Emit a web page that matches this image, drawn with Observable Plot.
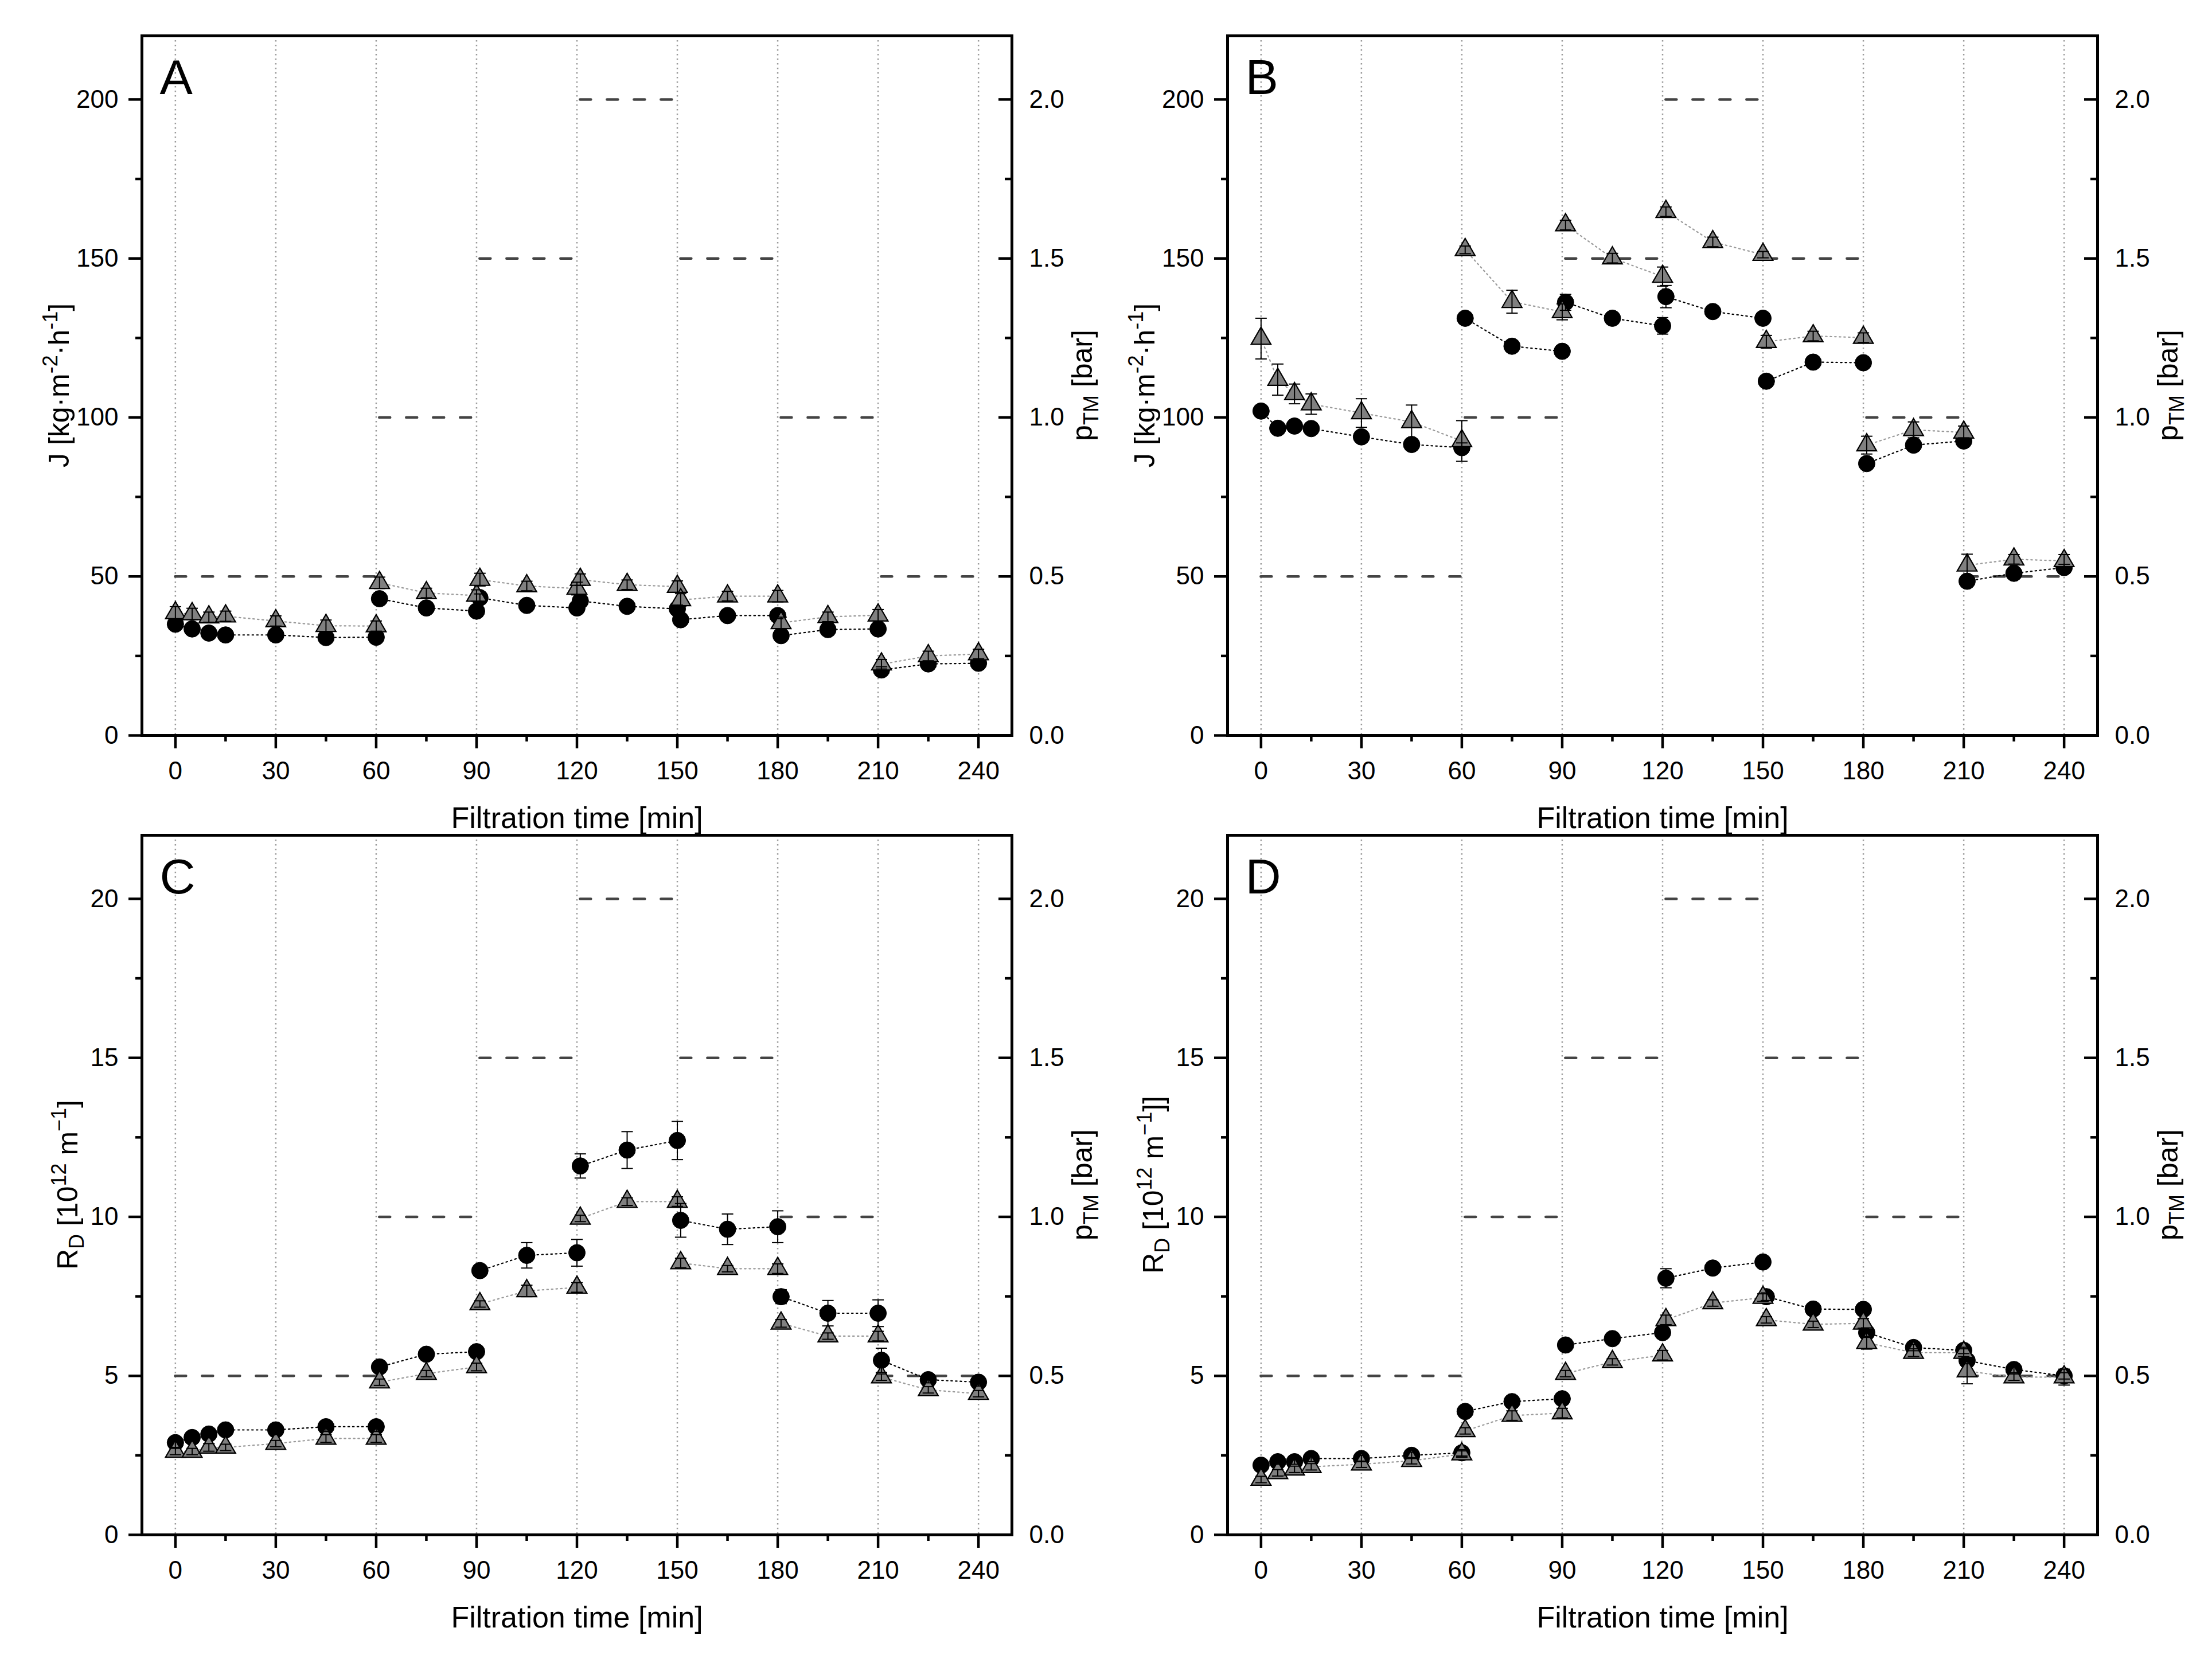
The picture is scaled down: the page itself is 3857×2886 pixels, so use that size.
<!DOCTYPE html>
<html><head><meta charset="utf-8">
<script src="https://cdn.jsdelivr.net/npm/d3@7"></script>
<script src="https://cdn.jsdelivr.net/npm/@observablehq/plot@0.6"></script>
<style>
html,body{margin:0;padding:0;background:#fff;}
#fig{position:relative;width:3857px;height:2886px;background:#fff;overflow:hidden;}
.panel{position:absolute;width:1930px;height:1472px;}
</style></head><body><div id="fig"></div>
<script>
// ---- shared x data ----
const times = [0,5,10,15,30,45,60, 61,75,90, 91,105,120, 121,135,150, 151,165,180, 181,195,210, 211,225,240];
const stage = [0,0,0,0,0,0,0, 1,1,1, 2,2,2, 3,3,3, 4,4,4, 5,5,5, 6,6,6];

// ---- transmembrane pressure steps ----
const pStart = [0,61,91,121,151,181,211];
const pEnd   = [60,90,120,150,180,210,240];
const pLevel = [0.5,1.0,1.5,2.0,1.5,1.0,0.5];

// ---- Panel A: flux J ----
const aCircle    = [35.0,33.5,32.2,31.6,31.6,30.8,30.9, 43.0,40.1,39.1, 43.3,40.9,40.1, 42.3,40.6,39.8, 36.4,37.7,37.7, 31.4,33.3,33.5, 20.6,22.5,22.7];
const aCircleErr = [1,1,0.8,0.8,1,1,1, 1.2,1,1, 1.2,1,1.2, 1.5,1,1.2, 1.5,1,1, 1,1,1, 1,0.8,0.8];
const aTriangle    = [38.5,38.2,37.2,37.5,36.0,34.5,34.4, 48.0,44.8,44.0, 49.0,47.0,46.2, 49.0,47.4,46.8, 42.6,43.8,43.8, 35.4,37.3,37.8, 22.4,25.0,25.6];
const aTriangleErr = [2,1.8,1.6,1.6,1.6,1.8,1.6, 1.8,1.5,1.8, 2,1.5,2, 1.8,1.5,1.8, 2,1.5,1.8, 1.8,1.5,1.8, 1.5,1.5,1.5];

// ---- Panel B: flux J ----
const bCircle    = [102.0,96.6,97.3,96.5,93.9,91.5,90.5, 131.2,122.4,120.8, 136.2,131.2,128.8, 138.0,133.3,131.2, 111.4,117.4,117.2, 85.5,91.3,92.6, 48.5,51.0,52.8];
const bCircleErr = [1,1,1,1,1,1,1.5, 1.5,1,1, 2.5,1.5,2.6, 3.5,1.5,1.5, 1.5,1,1, 1.5,1,1, 1,1,1];
const bTriangle    = [124.8,111.9,107.4,104.2,101.4,98.6,92.6, 152.7,136.4,133.2, 160.5,150.1,144.3, 164.7,155.2,151.2, 123.8,125.6,125.1, 91.3,96.1,95.3, 53.5,55.4,54.9];
const bTriangleErr = [6.4,4.9,3.1,3.2,4.5,5.3,6.4, 1.2,3.6,2.5, 1.5,1.5,3, 1.5,1.5,1, 2,1.5,1.5, 2.8,2.5,2, 3.5,1.5,2];

// ---- Panel C: resistance R_D ----
const cCircle    = [2.9,3.06,3.17,3.3,3.3,3.4,3.4, 5.28,5.68,5.76, 8.31,8.79,8.87, 11.6,12.1,12.4, 9.89,9.61,9.69, 7.49,6.97,6.97, 5.49,4.88,4.8];
const cCircleErr = [0.15,0.12,0.12,0.15,0.15,0.15,0.15, 0.15,0.12,0.15, 0.15,0.4,0.42, 0.38,0.58,0.6, 0.53,0.48,0.5, 0.22,0.4,0.42, 0.38,0.1,0.12];
const cTriangle    = [2.62,2.62,2.75,2.75,2.87,3.03,3.03, 4.8,5.07,5.28, 7.26,7.67,7.78, 9.95,10.48,10.48, 8.55,8.37,8.37, 6.65,6.25,6.25, 4.96,4.56,4.44];
const cTriangleErr = [0.1,0.1,0.12,0.1,0.1,0.12,0.12, 0.1,0.1,0.12, 0.1,0.18,0.15, 0.1,0.12,0.15, 0.15,0.1,0.15, 0.12,0.1,0.15, 0.1,0.1,0.1];

// ---- Panel D: resistance R_D ----
const dCircle    = [2.19,2.3,2.3,2.4,2.4,2.5,2.58, 3.88,4.19,4.28, 5.97,6.17,6.36, 8.07,8.39,8.58, 7.49,7.1,7.09, 6.36,5.89,5.8, 5.48,5.2,5.0];
const dCircleErr = [0.08,0.08,0.08,0.1,0.1,0.1,0.1, 0.1,0.1,0.1, 0.12,0.1,0.12, 0.3,0.1,0.1, 0.12,0.1,0.1, 0.15,0.1,0.1, 0.1,0.1,0.1];
const dTriangle    = [1.74,1.95,2.06,2.14,2.22,2.33,2.54, 3.27,3.75,3.83, 5.07,5.44,5.65, 6.76,7.29,7.46, 6.76,6.62,6.65, 6.04,5.73,5.73, 5.15,4.96,4.96];
const dTriangleErr = [0.1,0.1,0.1,0.1,0.1,0.1,0.1, 0.1,0.15,0.15, 0.1,0.1,0.15, 0.15,0.1,0.12, 0.1,0.1,0.15, 0.2,0.12,0.12, 0.4,0.1,0.25];

// ---- ticks ----
const xMajor = [0,30,60,90,120,150,180,210,240];
const xMinor = [15,45,75,105,135,165,195,225];
const jMajor = [0,50,100,150,200];
const jMinor = [25,75,125,175];
const rMajor = [0,5,10,15,20];
const rMinor = [2.5,7.5,12.5,17.5];
const pMajor = [0,0.5,1.0,1.5,2.0];
const pMinor = [0.25,0.75,1.25,1.75];

// ---- titles ----
const xTitle = "Filtration time [min]";
const jTitle = [["J [kg·m","n"],["-2","sup"],["·h","n"],["-1","sup"],["]","n"]];
const rTitleC = [["R","n"],["D","sub"],[" [10","n"],["12","sup"],[" m","n"],["−1","sup"],["]","n"]];
const rTitleD = [["R","n"],["D","sub"],[" [10","n"],["12","sup"],[" m","n"],["−1","sup"],["]]","n"]];
const pTitle = [["p","n"],["TM","sub"],[" [bar]","n"]];

const FONT = "'Liberation Sans', Arial, Helvetica, sans-serif";
const FRAME_W = 1517, FRAME_H = 1220;

function richTitle(parts, side, offset) {
  return (index, scales, values, dims) => {
    const {width, height, marginLeft, marginRight, marginTop, marginBottom} = dims;
    const cx = side === "left" ? marginLeft - offset : width - marginRight + offset;
    const cy = (marginTop + height - marginBottom) / 2;
    const t = d3.create("svg:text")
      .attr("transform", `translate(${cx},${cy}) rotate(-90)`)
      .attr("text-anchor", "middle")
      .attr("font-size", 50)
      .attr("font-family", FONT)
      .attr("fill", "black")
      .style("white-space", "pre");
    let cur = 0;
    for (const [str, kind] of parts) {
      const target = kind === "sup" ? -20 : kind === "sub" ? 11 : 0;
      t.append("tspan").attr("dy", target - cur).attr("font-size", kind === "n" ? 50 : 36).text(str);
      cur = target;
    }
    return t.node();
  };
}

const capSymbol = {draw(ctx) { ctx.moveTo(-10, 0); ctx.lineTo(10, 0); }};

function makePanel(cfg) {
  const k = cfg.k;
  const circ = times.map((t, i) => ({t, s: stage[i], v: cfg.circle[i], e: cfg.circleErr[i]}));
  const tri  = times.map((t, i) => ({t, s: stage[i], v: cfg.triangle[i], e: cfg.triangleErr[i]}));
  const press = pStart.map((s, i) => ({x1: s, x2: pEnd[i], y: pLevel[i] * k}));
  const errs = circ.concat(tri);
  const W = 1930, H = 1472, mL = 247, mT = 62;
  return Plot.plot({
    width: W, height: H,
    marginLeft: mL, marginRight: W - mL - FRAME_W,
    marginTop: mT, marginBottom: H - mT - FRAME_H,
    style: {background: "transparent", fontFamily: FONT, overflow: "visible", color: "black"},
    x: {domain: [-10, 250], axis: null},
    y: {domain: [0, cfg.yMax], axis: null},
    marks: [
      Plot.gridX(xMajor, {stroke: "#9a9a9a", strokeOpacity: 1, strokeWidth: 2.5, strokeDasharray: "2.5,5.5"}),
      Plot.ruleY(press, {x1: "x1", x2: "x2", y: "y", stroke: "#444", strokeWidth: 4.5, strokeDasharray: "19,28", strokeLinecap: "round"}),
      Plot.line(tri, {x: "t", y: "v", z: "s", stroke: "#9a9a9a", strokeWidth: 2.2, strokeDasharray: "2.5,5.5"}),
      Plot.line(circ, {x: "t", y: "v", z: "s", stroke: "#000", strokeWidth: 2.2, strokeDasharray: "2.5,5.5"}),
      Plot.dot(circ, {x: "t", y: "v", r: 14.5, fill: "black", stroke: "black", strokeWidth: 1}),
      Plot.dot(tri, {x: "t", y: "v", r: 12.8, symbol: "triangle", fill: "#808080", stroke: "black", strokeWidth: 2.2}),
      Plot.ruleX(errs, {x: "t", y1: d => d.v - d.e, y2: d => d.v + d.e, stroke: "black", strokeWidth: 2}),
      Plot.dot(errs, {x: "t", y: d => d.v + d.e, symbol: capSymbol, r: 5, fill: "none", stroke: "black", strokeWidth: 2}),
      Plot.dot(errs, {x: "t", y: d => d.v - d.e, symbol: capSymbol, r: 5, fill: "none", stroke: "black", strokeWidth: 2}),
      Plot.frame({stroke: "black", strokeWidth: 5}),
      Plot.axisX(xMajor, {anchor: "bottom", tickSize: 23, tickPadding: 22, strokeWidth: 4.5, fontSize: 44, label: null, tickFormat: d => String(d)}),
      Plot.axisX(xMinor, {anchor: "bottom", tickSize: 11, strokeWidth: 4.5, fontSize: 44, label: null, tickFormat: () => ""}),
      Plot.axisY(cfg.yMajor, {anchor: "left", tickSize: 23, tickPadding: 18, strokeWidth: 4.5, fontSize: 44, label: null, tickFormat: d => String(d)}),
      Plot.axisY(cfg.yMinor, {anchor: "left", tickSize: 11, strokeWidth: 4.5, fontSize: 44, label: null, tickFormat: () => ""}),
      Plot.axisY(pMajor.map(p => p * k), {anchor: "right", tickSize: 0, tickPadding: 30, fontSize: 44, label: null, tickFormat: v => (v / k).toFixed(1)}),
      Plot.ruleY(pMajor.map(p => p * k), {insetLeft: FRAME_W - 23, stroke: "black", strokeWidth: 4.5}),
      Plot.ruleY(pMinor.map(p => p * k), {insetLeft: FRAME_W - 12, stroke: "black", strokeWidth: 4.5}),
      Plot.text([cfg.letter], {frameAnchor: "top-left", dx: 31, dy: 40, fontSize: 86, lineAnchor: "top", textAnchor: "start", fill: "black"}),
      Plot.text([xTitle], {frameAnchor: "bottom", dy: 161, fontSize: 52, lineAnchor: "bottom", fill: "black"}),
      richTitle(cfg.yTitle, "left", cfg.titleOffset),
      richTitle(pTitle, "right", 140)
    ]
  });
}

const panels = [
  {letter: "A", left: 0,    top: 0,    k: 100, yMax: 220, yMajor: jMajor, yMinor: jMinor, circle: aCircle, circleErr: aCircleErr, triangle: aTriangle, triangleErr: aTriangleErr, yTitle: jTitle, titleOffset: 127},
  {letter: "B", left: 1893, top: 0,    k: 100, yMax: 220, yMajor: jMajor, yMinor: jMinor, circle: bCircle, circleErr: bCircleErr, triangle: bTriangle, triangleErr: bTriangleErr, yTitle: jTitle, titleOffset: 127},
  {letter: "C", left: 0,    top: 1394, k: 10,  yMax: 22,  yMajor: rMajor, yMinor: rMinor, circle: cCircle, circleErr: cCircleErr, triangle: cTriangle, triangleErr: cTriangleErr, yTitle: rTitleC, titleOffset: 112},
  {letter: "D", left: 1893, top: 1394, k: 10,  yMax: 22,  yMajor: rMajor, yMinor: rMinor, circle: dCircle, circleErr: dCircleErr, triangle: dTriangle, triangleErr: dTriangleErr, yTitle: rTitleD, titleOffset: 112}
];

const fig = document.getElementById("fig");
for (const cfg of panels) {
  const div = document.createElement("div");
  div.className = "panel";
  div.style.left = cfg.left + "px";
  div.style.top = cfg.top + "px";
  div.appendChild(makePanel(cfg));
  fig.appendChild(div);
}
</script></body></html>
